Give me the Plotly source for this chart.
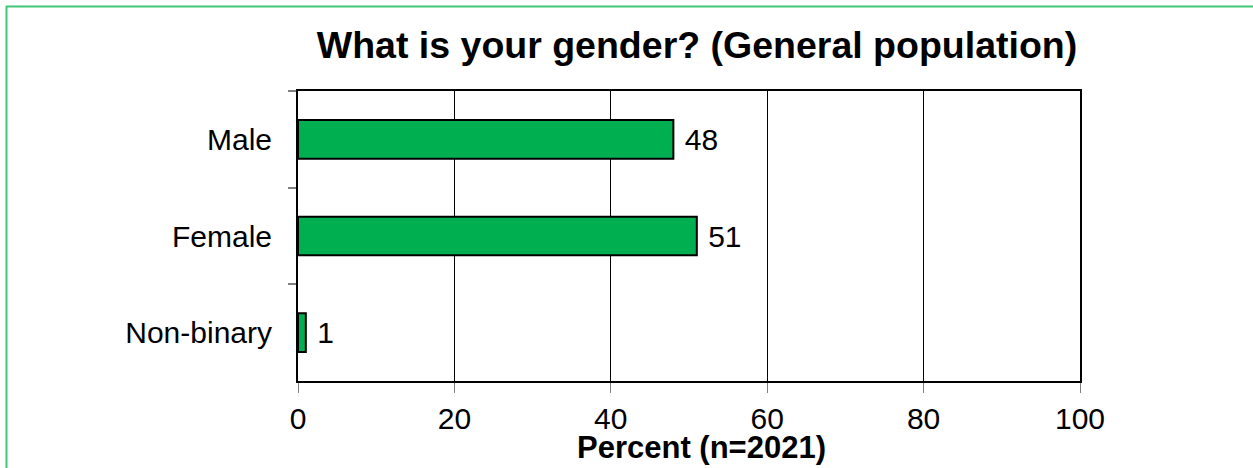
import plotly.graph_objects as go

categories = ["Male", "Female", "Non-binary"]
values = [48, 51, 1]
x_ticks = [0, 20, 40, 60, 80, 100]
title_text = "What is your gender? (General population)"
x_title = "Percent (n=2021)"

W, H = 1253, 468
L, R, T, B = 298, 1080, 91, 381

fig = go.Figure()
fig.add_trace(go.Bar(
    y=categories, x=values, orientation="h",
    marker=dict(color="#00B050", line=dict(color="black", width=2)),
    text=[f" {v}" for v in values], textposition="outside",
    textfont=dict(family="Liberation Sans, Arial", size=30, color="black"),
    cliponaxis=False,
))

def px_to_paper_x(px):
    return (px - L) / (R - L)

def px_to_paper_y(py):
    return (B - py) / (B - T)

border = "#40C878"
fig.add_shape(type="line", xref="paper", yref="paper",
              x0=px_to_paper_x(6), x1=px_to_paper_x(W + 5),
              y0=px_to_paper_y(6.5), y1=px_to_paper_y(6.5),
              line=dict(color=border, width=2))
fig.add_shape(type="line", xref="paper", yref="paper",
              x0=px_to_paper_x(6.5), x1=px_to_paper_x(6.5),
              y0=px_to_paper_y(6), y1=px_to_paper_y(H + 5),
              line=dict(color=border, width=2))

fig.add_annotation(
    text=f"<b>{x_title}</b>", xref="paper", yref="paper",
    x=px_to_paper_x(701), y=px_to_paper_y(447),
    xanchor="center", yanchor="middle", showarrow=False,
    font=dict(size=31, family="Liberation Sans, Arial", color="black"),
)

fig.update_layout(
    width=W, height=H,
    margin=dict(l=L, r=W - R, t=T, b=H - B, pad=0, autoexpand=False),
    paper_bgcolor="white", plot_bgcolor="white",
    showlegend=False, bargap=0.6,
    font=dict(family="Liberation Sans, Arial", color="black"),
    title=dict(text=f"<b>{title_text}</b>", x=697 / W, xanchor="center",
               y=1 - 45 / H, yanchor="middle",
               font=dict(size=37.5, family="Liberation Sans, Arial", color="black")),
)
fig.update_xaxes(
    range=[0, 100], tickvals=x_ticks, ticktext=[str(t) for t in x_ticks],
    showgrid=True, gridcolor="black", gridwidth=1,
    showline=True, linecolor="black", linewidth=2, mirror=True,
    ticks="outside", ticklen=10, tickcolor="#808080", tickwidth=1,
    tickfont=dict(size=30), zeroline=False,
)
fig.update_yaxes(
    categoryorder="array", categoryarray=categories, autorange="reversed",
    showline=True, linecolor="black", linewidth=2, mirror=True,
    ticks="outside", ticklen=8, tickcolor="#808080", tickwidth=2,
    tickson="boundaries", showgrid=False,
    tickfont=dict(size=30), ticklabelstandoff=18,
)

fig.write_html(
    "out.html",
    config={"displayModeBar": False},
    post_script="document.body.style.margin='0';document.body.style.overflow='hidden';",
)
